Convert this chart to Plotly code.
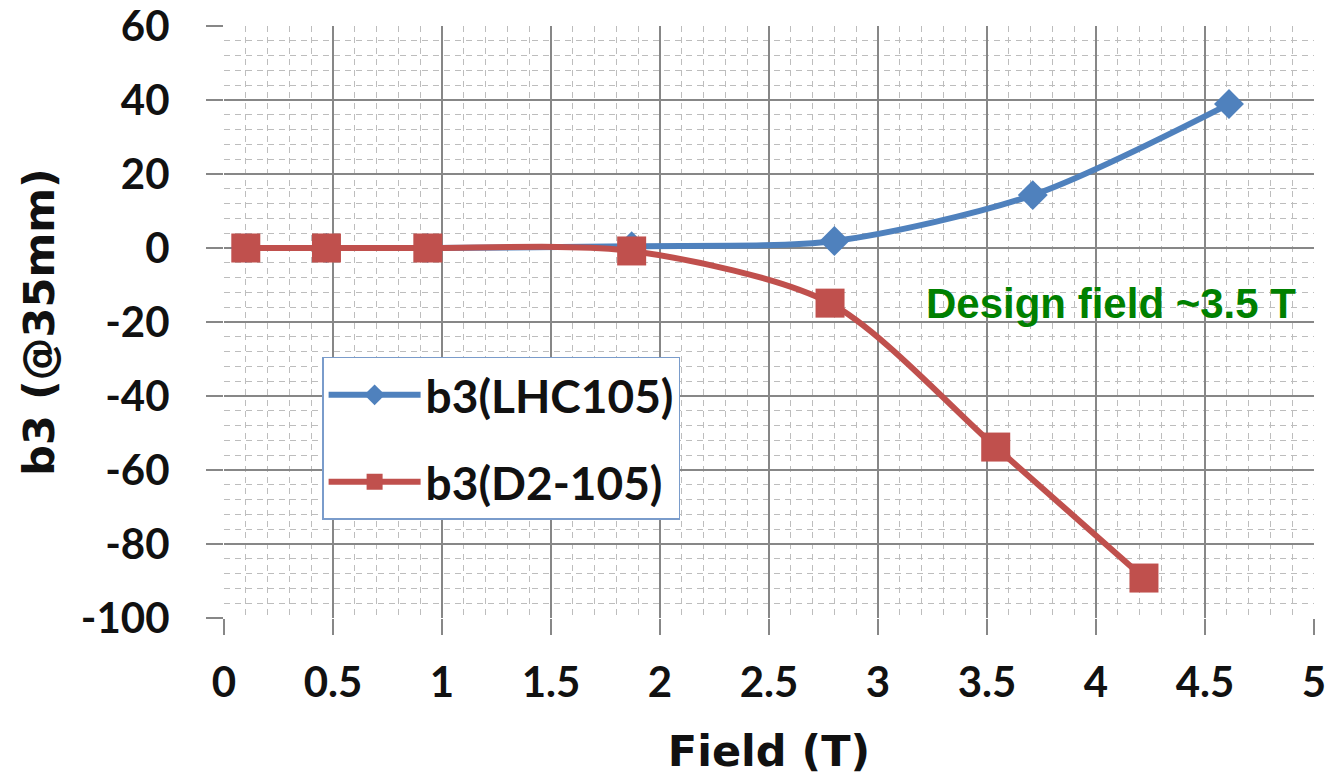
import plotly.graph_objects as go

# Data
lhc_field = [0.10, 0.47, 0.935, 1.87, 2.80, 3.71, 4.61]
lhc_b3 = [0.0, 0.0, 0.0, 0.5, 1.9, 14.3, 38.9]
d2_field = [0.10, 0.47, 0.935, 1.87, 2.78, 3.54, 4.22]
d2_b3 = [0.0, 0.0, 0.0, -0.8, -14.9, -53.8, -89.2]

x_ticks = [0, 0.5, 1, 1.5, 2, 2.5, 3, 3.5, 4, 4.5, 5]
x_ticklabels = ["0", "0.5", "1", "1.5", "2", "2.5", "3", "3.5", "4", "4.5", "5"]
y_ticks = [60, 40, 20, 0, -20, -40, -60, -80, -100]
y_ticklabels = ["60", "40", "20", "0", "-20", "-40", "-60", "-80", "-100"]

BLUE = "#4F81BD"
RED = "#C0504D"
FONT = "Lato"
TFONT = "DejaVu Sans"

fig = go.Figure()
fig.add_trace(go.Scatter(
    x=lhc_field, y=lhc_b3, name="b3(LHC105)", mode="lines+markers",
    line=dict(color=BLUE, width=6, shape="spline", smoothing=0.8),
    marker=dict(symbol="diamond", size=23, color=BLUE),
    legendgroup="a",
))
fig.add_trace(go.Scatter(
    x=d2_field, y=d2_b3, name="b3(D2-105)", mode="lines+markers",
    line=dict(color=RED, width=6, shape="spline", smoothing=0.8),
    marker=dict(symbol="square", size=29, color=RED),
    legendgroup="b",
))

fig.add_annotation(
    x=4.07, y=-15, xref="x", yref="y", text="Design field ~3.5 T",
    showarrow=False,
    font=dict(family="Liberation Sans, Arial", size=42, color="#008000", weight="bold"),
)

grid_major = "#878787"
grid_minor = "#bdbdbd"

fig.update_xaxes(
    range=[0, 5], tickvals=x_ticks, ticktext=x_ticklabels,
    showgrid=True, gridcolor=grid_major, gridwidth=1.5,
    ticks="outside", ticklen=16, tickcolor=grid_major, tickwidth=1.5,
    ticklabelstandoff=12, ticklabeloverflow="allow",
    tickfont=dict(family=FONT, size=42, color="#111111", weight="bold"),
    zeroline=False, showline=False, automargin=False,
    minor=dict(dtick=0.1, showgrid=True, gridcolor=grid_minor, gridwidth=1, griddash="6px,5px"),
    title=dict(text="Field (T)", font=dict(family=TFONT, size=43, color="#111111", weight="bold"), standoff=30),
)
fig.update_yaxes(
    range=[-100, 60], tickvals=y_ticks, ticktext=y_ticklabels,
    showgrid=True, gridcolor=grid_major, gridwidth=1.5,
    ticks="outside", ticklen=17, tickcolor=grid_major, tickwidth=1.5,
    ticklabelstandoff=28, ticklabeloverflow="allow",
    tickfont=dict(family=FONT, size=42, color="#111111", weight="bold"),
    zeroline=False, showline=False, automargin=False,
    minor=dict(dtick=4, showgrid=True, gridcolor=grid_minor, gridwidth=1, griddash="6px,5px"),
    title=dict(text="b3 (@35mm)", font=dict(family=TFONT, size=43, color="#111111", weight="bold"), standoff=12),
)

fig.update_layout(
    width=1328, height=783,
    margin=dict(l=224, r=14, t=26, b=165),
    paper_bgcolor="white", plot_bgcolor="white",
    showlegend=True,
    legend=dict(
        x=0.09, y=0.441, xanchor="left", yanchor="top",
        bgcolor="white", bordercolor="#7A9CCB", borderwidth=1.5,
        font=dict(family=FONT, size=46, color="#111111", weight="bold"),
        traceorder="grouped", tracegroupgap=24,
        itemsizing="trace", itemwidth=92,
    ),
)

fig.write_html("out.html")
